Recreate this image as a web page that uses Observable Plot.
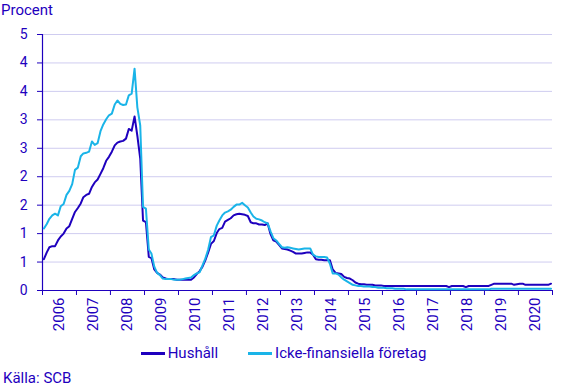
<!DOCTYPE html>
<html>
<head>
<meta charset="utf-8">
<script src="https://cdn.jsdelivr.net/npm/d3@7"></script>
<script src="https://cdn.jsdelivr.net/npm/@observablehq/plot@0.6"></script>
<style>
  body { margin: 0; background: #ffffff; font-family: Roboto, Arial, sans-serif; color: #1e00be; }
  #wrap { position: relative; width: 567px; height: 388px; overflow: hidden; }
  #unit { position: absolute; left: 1px; top: 1px; font-size: 15px; line-height: 18px; }
  #chart { position: absolute; left: 0; top: 0; }
  #legend { position: absolute; left: 0; top: 344px; width: 567px; display: flex; justify-content: center; align-items: center; font-size: 15px; line-height: 18px; }
  .item { display: inline-flex; align-items: center; }
  .item + .item { margin-left: 30px; }
  .sw { width: 24px; height: 3px; margin-right: 3px; }
  #source { position: absolute; left: 3px; top: 369px; font-size: 15px; line-height: 18px; }
</style>
</head>
<body>
<div id="wrap">
  <div id="chart"></div>
  <div id="unit">Procent</div>
  <div id="legend"></div>
  <div id="source">Källa: SCB</div>
</div>
<script>
// Year labels (one band per year, monthly data Jan 2006 – Dec 2020)
const years = ["2006","2007","2008","2009","2010","2011","2012","2013","2014","2015","2016","2017","2018","2019","2020"];

// Series names and colours
const seriesNames = ["Hushåll", "Icke-finansiella företag"];
const seriesColors = ["#1e00be", "#1ab4e8"];

// Y ticks and their labels as shown in the chart
const yTicks = [0, 0.5, 1, 1.5, 2, 2.5, 3, 3.5, 4, 4.5];
const yLabels = ["0", "1", "1", "2", "2", "3", "3", "4", "4", "5"];

// Hushåll, monthly values (%)
const hushall = [
  0.55, 0.67, 0.76, 0.78, 0.78, 0.88, 0.95, 1.00, 1.09, 1.13, 1.26, 1.38,
  1.45, 1.53, 1.64, 1.68, 1.70, 1.82, 1.90, 1.95, 2.05, 2.15, 2.28, 2.35,
  2.44, 2.55, 2.60, 2.62, 2.63, 2.67, 2.84, 2.81, 3.06, 2.72, 2.32, 1.23,
  1.20, 0.59, 0.57, 0.37, 0.31, 0.28, 0.23, 0.21, 0.20, 0.20, 0.20, 0.19,
  0.19, 0.19, 0.19, 0.19, 0.19, 0.23, 0.29, 0.34, 0.42, 0.53, 0.67, 0.82,
  0.87, 1.01, 1.08, 1.10, 1.21, 1.24, 1.27, 1.32, 1.34, 1.35, 1.34, 1.33,
  1.31, 1.20, 1.18, 1.18, 1.16, 1.16, 1.15, 1.18, 0.99, 0.88, 0.86, 0.80,
  0.74, 0.73, 0.72, 0.70, 0.68, 0.65, 0.65, 0.65, 0.66, 0.67, 0.67, 0.63,
  0.55, 0.54, 0.54, 0.53, 0.53, 0.53, 0.37, 0.31, 0.30, 0.29, 0.24, 0.22,
  0.21, 0.18, 0.14, 0.12, 0.11, 0.11, 0.10, 0.10, 0.10, 0.09, 0.09, 0.09,
  0.08, 0.08, 0.08, 0.08, 0.08, 0.08, 0.08, 0.08, 0.08, 0.08, 0.08, 0.08,
  0.08, 0.08, 0.08, 0.08, 0.08, 0.08, 0.08, 0.08, 0.08, 0.08, 0.08, 0.06,
  0.08, 0.08, 0.08, 0.08, 0.08, 0.06, 0.08, 0.08, 0.08, 0.08, 0.08, 0.08,
  0.08, 0.08, 0.10, 0.12, 0.12, 0.12, 0.12, 0.12, 0.12, 0.12, 0.10, 0.11,
  0.12, 0.12, 0.10, 0.10, 0.10, 0.10, 0.10, 0.10, 0.10, 0.10, 0.10, 0.12
];

// Icke-finansiella företag, monthly values (%)
const foretag = [
  1.09, 1.17, 1.26, 1.32, 1.35, 1.32, 1.48, 1.52, 1.68, 1.75, 1.87, 2.12,
  2.16, 2.36, 2.41, 2.42, 2.44, 2.62, 2.56, 2.59, 2.80, 2.92, 3.01, 3.08,
  3.11, 3.27, 3.34, 3.28, 3.26, 3.27, 3.43, 3.46, 3.90, 3.22, 2.90, 1.47,
  1.44, 0.72, 0.65, 0.42, 0.31, 0.27, 0.21, 0.20, 0.20, 0.20, 0.19, 0.19,
  0.19, 0.20, 0.21, 0.22, 0.23, 0.27, 0.30, 0.32, 0.44, 0.56, 0.72, 0.94,
  0.97, 1.14, 1.23, 1.32, 1.37, 1.39, 1.42, 1.47, 1.51, 1.51, 1.54, 1.50,
  1.46, 1.37, 1.30, 1.26, 1.25, 1.23, 1.20, 1.18, 1.04, 0.92, 0.88, 0.82,
  0.76, 0.75, 0.76, 0.75, 0.74, 0.73, 0.72, 0.73, 0.74, 0.74, 0.74, 0.63,
  0.60, 0.59, 0.59, 0.59, 0.58, 0.47, 0.30, 0.30, 0.28, 0.23, 0.19, 0.16,
  0.13, 0.10, 0.09, 0.08, 0.08, 0.07, 0.07, 0.07, 0.06, 0.06, 0.05, 0.05,
  0.05, 0.04, 0.04, 0.04, 0.03, 0.03, 0.03, 0.03, 0.02, 0.02, 0.02, 0.02,
  0.02, 0.02, 0.02, 0.02, 0.02, 0.02, 0.02, 0.02, 0.02, 0.02, 0.02, 0.02,
  0.02, 0.02, 0.02, 0.02, 0.02, 0.02, 0.02, 0.02, 0.02, 0.02, 0.02, 0.02,
  0.02, 0.02, 0.03, 0.03, 0.03, 0.03, 0.03, 0.03, 0.03, 0.03, 0.03, 0.03,
  0.03, 0.03, 0.03, 0.03, 0.03, 0.03, 0.03, 0.03, 0.03, 0.03, 0.03, 0.03
];

const firstYear = +years[0];
const table = hushall.map((v, k) => ({
  date: new Date(firstYear, k, 16),
  hushall: v,
  foretag: foretag[k]
}));
const yearStarts = years.map(y => new Date(+y, 0, 1)).concat([new Date(+years[years.length - 1] + 1, 0, 1)]);
const yearMids = years.map(y => new Date(+y, 6, 2));
const axisColor = "#1e00be";

const chart = Plot.plot({
  width: 567,
  height: 340,
  marginTop: 34,
  marginBottom: 50,
  marginLeft: 42,
  marginRight: 15,
  style: { fontFamily: "Roboto, Arial, sans-serif", fontSize: "14px", color: axisColor, background: "transparent" },
  x: { type: "time", domain: [yearStarts[0], yearStarts[yearStarts.length - 1]] },
  y: { domain: [0, 4.5] },
  marks: [
    Plot.gridY(yTicks, { stroke: "#cfccf0", strokeOpacity: 1 }),
    Plot.axisY(yTicks, { tickSize: 5, tickPadding: 10, tickFormat: d => yLabels[yTicks.indexOf(d)], fontSize: 14, label: null }),
    Plot.axisX(yearStarts, { tickSize: 5, tickFormat: () => "", label: null }),
    Plot.axisX(yearMids, { tickSize: 0, tickPadding: 7, tickRotate: -90, tickFormat: d => years[yearMids.findIndex(m => +m === +d)], fontSize: 15, label: null }),
    Plot.ruleY([0], { stroke: axisColor, strokeWidth: 1.2 }),
    Plot.ruleX([yearStarts[0]], { y1: 0, y2: 4.5, stroke: axisColor, strokeWidth: 1.2 }),
    Plot.line(table, { x: "date", y: "hushall", stroke: seriesColors[0], strokeWidth: 2 }),
    Plot.line(table, { x: "date", y: "foretag", stroke: seriesColors[1], strokeWidth: 2 })
  ]
});
document.getElementById("chart").appendChild(chart);

const legend = document.getElementById("legend");
seriesNames.forEach((name, i) => {
  const item = document.createElement("span");
  item.className = "item";
  const sw = document.createElement("span");
  sw.className = "sw";
  sw.style.background = seriesColors[i];
  const label = document.createElement("span");
  label.textContent = name;
  item.appendChild(sw);
  item.appendChild(label);
  legend.appendChild(item);
});
</script>
</body>
</html>
